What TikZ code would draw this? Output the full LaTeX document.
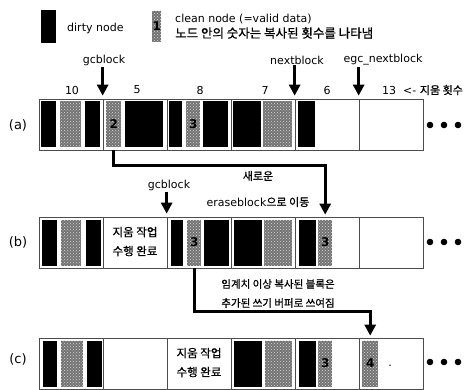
\documentclass[tikz,border=0pt]{standalone}
\usepackage{fontspec}
\setmainfont{DejaVu Sans}
\newfontfamily\kr[FakeBold=0.8]{Noto Sans CJK KR}
\newcommand{\krs}{\fontsize{11}{13}\selectfont\kr}
\usetikzlibrary{arrows.meta, positioning, patterns}

\begin{document}
\begin{tikzpicture}[
    x=1pt, y=-1pt,
    % Styles
    block/.style={
        rectangle, draw=black!70, line width=0.7pt,
        minimum width=64pt, minimum height=51pt, inner sep=0pt
    },
    dirty/.style={
        rectangle, fill=black, minimum width=#1pt, minimum height=46pt,
        inner sep=0pt, anchor=west
    },
    clean/.style={
        rectangle, preaction={fill=black!55}, pattern=crosshatch dots,
        pattern color=white!85!black, minimum width=#1pt, minimum height=46pt,
        inner sep=0pt, anchor=west, font=\fontsize{12}{12}\selectfont\bfseries
    },
    txt/.style={font=\fontsize{11}{13}\selectfont, inner sep=1pt},
    kor/.style={font=\krs, inner sep=1pt},
    rowlbl/.style={font=\fontsize{13}{15}\selectfont, inner sep=1pt},
    pointer/.style={
        -{Triangle[width=11pt, length=11pt]}, line width=3pt
    }
]
\useasboundingbox (0,0) rectangle (473,390);

% ── Legend ──────────────────────────────────────────────────────────────────
\node[dirty=15, minimum height=33pt] (legdirty) at (41,26.5) {};
\node[txt, anchor=west] (legdirtytxt) at (66,28) {dirty node};
\node[clean=9, minimum height=31pt] (legclean) at (152,26.5) {1};
\node[txt, anchor=west] (legcleantxt) at (174,19) {clean node (=valid data)};
\node[kor, font=\fontsize{12.5}{14}\selectfont\kr, anchor=west] (legcleankr) at (174,33) {노드 안의 숫자는 복사된 횟수를 나타냄};

% ── Row (a) ─────────────────────────────────────────────────────────────────
\node[rowlbl] (rowa) at (18,125) {(a)};
\node[block] (a1) at (71,124.5) {};
\node[block] (a2) at (135,124.5) {};
\node[block] (a3) at (199,124.5) {};
\node[block] (a4) at (263,124.5) {};
\node[block] (a5) at (327,124.5) {};
\node[block] (a6) at (391,124.5) {};

\node[dirty=15] (a1d) at (41,124.5) {};
\node[clean=21] (a1c) at (60,124.5) {};
\node[dirty=15] (a1e) at (85,124.5) {};
\node[clean=15] (a2c) at (106,124.5) {2};
\node[dirty=38] (a2d) at (125,124.5) {};
\node[dirty=13] (a3d) at (169,124.5) {};
\node[clean=14] (a3c) at (186,124.5) {3};
\node[dirty=25] (a3e) at (203,124.5) {};
\node[dirty=28] (a4d) at (233,124.5) {};
\node[clean=29] (a4c) at (263,124.5) {};
\node[dirty=17] (a5d) at (298,124.5) {};

% erase counts
\node[txt] (cnt1) at (72,90) {10};
\node[txt] (cnt2) at (137,90) {5};
\node[txt] (cnt3) at (200,90) {8};
\node[txt] (cnt4) at (265,90) {7};
\node[txt] (cnt5) at (327,90) {6};
\node[txt] (cnt6) at (389,90) {13};
\node[txt, anchor=west] (cntlbl) at (402,90) {<- {\krs 지움 횟수}};

% block pointers
\node[txt] (gcA) at (104,60) {gcblock};
\node[txt] (nextA) at (297,60) {nextblock};
\node[txt] (egcA) at (383,60) {egc\_nextblock};
\draw[pointer] (gcA.south -| a2.north west) -- ([yshift=3pt]a2.north west);
\draw[pointer] (nextA.south -| a5.north west) -- ([yshift=3pt]a5.north west);
\draw[pointer] (egcA.south -| a6.north west) -- ([yshift=3pt]a6.north west);

\fill (430,125) circle (3.3pt) (444,125) circle (3.3pt) (458,125) circle (3.3pt);

% ── Row (b) ─────────────────────────────────────────────────────────────────
\node[rowlbl] (rowb) at (18,242) {(b)};
\node[block] (b1) at (71,242.5) {};
\node[block] (b2) at (135,242.5) {};
\node[block] (b3) at (199,242.5) {};
\node[block] (b4) at (263,242.5) {};
\node[block] (b5) at (327,242.5) {};
\node[block] (b6) at (391,242.5) {};

\node[dirty=15] (b1d) at (42,242.5) {};
\node[clean=20] (b1c) at (61,242.5) {};
\node[dirty=15] (b1e) at (86,242.5) {};
\node[kor, font=\fontsize{11.5}{13}\selectfont\kr] (b2t) at (135,232) {지움 작업};
\node[kor, font=\fontsize{11.5}{13}\selectfont\kr] (b2u) at (135,251) {수행 완료};
\node[dirty=12] (b3d) at (171,242.5) {};
\node[clean=14] (b3c) at (187,242.5) {3};
\node[dirty=25] (b3e) at (204,242.5) {};
\node[dirty=28] (b4d) at (234,242.5) {};
\node[clean=28] (b4c) at (264,242.5) {};
\node[dirty=17] (b5d) at (299,242.5) {};
\node[clean=14] (b5c) at (318,242.5) {3};

\node[txt] (gcB) at (169,185) {gcblock};
\draw[pointer] (gcB.south -| b3.north west) -- ([yshift=3pt]b3.north west);

% moved to a new eraseblock
\node[kor] (movA) at (258,176) {새로운};
\node[txt] (movB) at (258,202) {eraseblock{\krs 으로 이동}};
\coordinate (b5top) at (b5c.north |- b5.north);
\draw[pointer] (a2c.south |- a2.south) -- ++(0,15) -| ([yshift=2pt]b5top);

\fill (430,242) circle (3.3pt) (444,242) circle (3.3pt) (458,242) circle (3.3pt);

% ── Row (c) ─────────────────────────────────────────────────────────────────
\node[rowlbl] (rowc) at (18,359) {(c)};
\node[block] (c1) at (71,363.5) {};
\node[block] (c2) at (135,363.5) {};
\node[block] (c3) at (199,363.5) {};
\node[block] (c4) at (263,363.5) {};
\node[block] (c5) at (327,363.5) {};
\node[block] (c6) at (391,363.5) {};

\node[dirty=14] (c1d) at (43,363.5) {};
\node[clean=22] (c1c) at (61,363.5) {};
\node[dirty=15] (c1e) at (87,363.5) {};
\node[kor, font=\fontsize{11.5}{13}\selectfont\kr] (c3t) at (199,353) {지움 작업};
\node[kor, font=\fontsize{11.5}{13}\selectfont\kr] (c3u) at (199,372) {수행 완료};
\node[dirty=28] (c4d) at (234,363.5) {};
\node[clean=27] (c4c) at (265,363.5) {};
\node[dirty=17] (c5d) at (299,363.5) {};
\node[clean=14] (c5c) at (318,363.5) {3};
\node[clean=16] (c6c) at (362,363.5) {4};
\node[txt] (c6dot) at (390,366) {.};

% copied over the threshold
\node[kor, font=\fontsize{10.5}{12}\selectfont\kr] (thrA) at (278,284) {임계치 이상 복사된 블록은};
\node[kor, font=\fontsize{10.5}{12}\selectfont\kr] (thrB) at (278,303) {추가된 쓰기 버퍼로 쓰여짐};
\coordinate (c6top) at (c6c.north |- c6.north);
\draw[pointer] (b3c.south |- b3.south) -- ++(0,43) -| ([yshift=2pt]c6top);

\fill (430,362) circle (3.3pt) (444,362) circle (3.3pt) (458,362) circle (3.3pt);

\end{tikzpicture}
\end{document}
